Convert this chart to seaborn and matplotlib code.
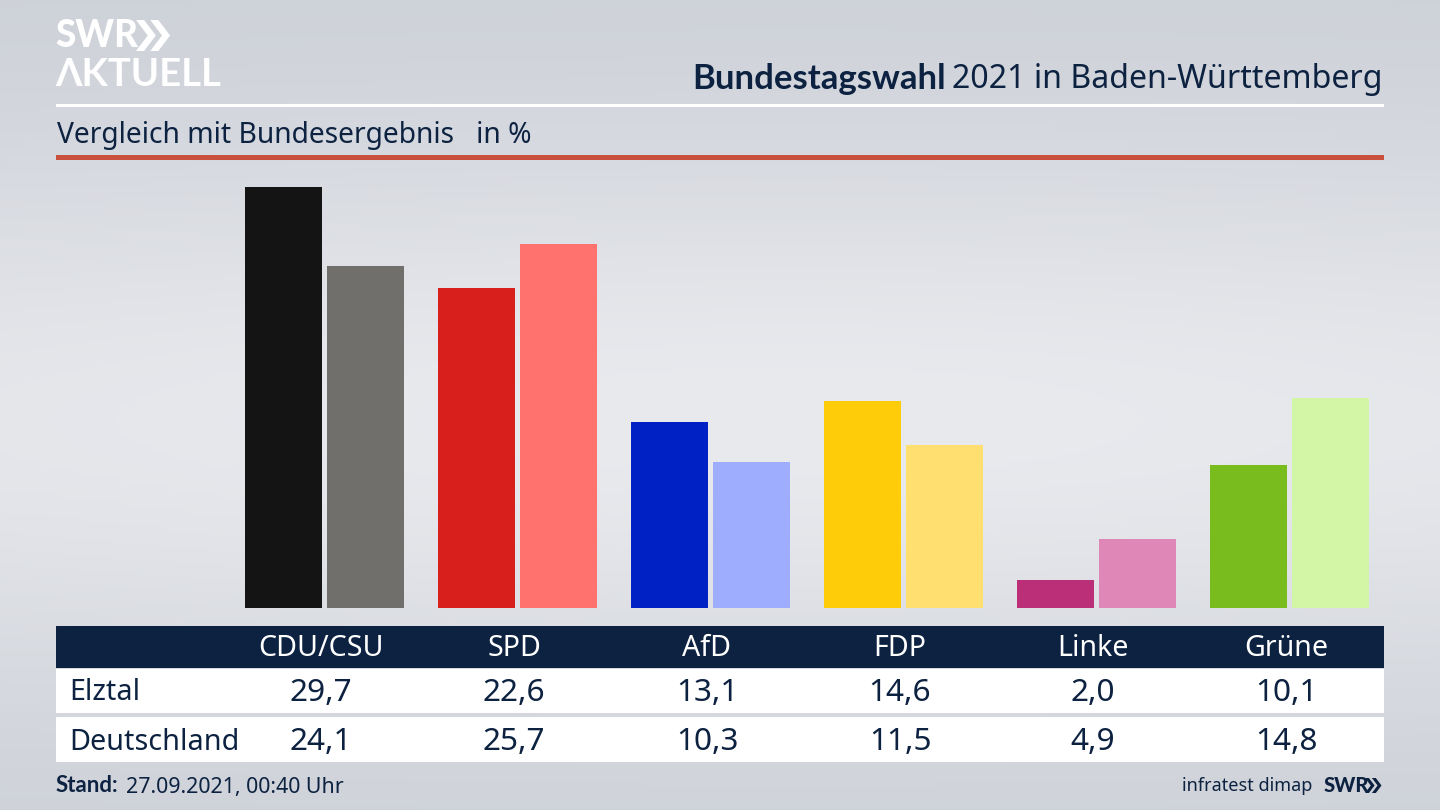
import matplotlib

matplotlib.use("Agg")
import matplotlib.pyplot as plt
import numpy as np
import pandas as pd
import seaborn as sns
from matplotlib.patches import Polygon, Rectangle

parties = ["CDU/CSU", "SPD", "AfD", "FDP", "Linke", "Grüne"]
elztal = [29.7, 22.6, 13.1, 14.6, 2.0, 10.1]
deutschland = [24.1, 25.7, 10.3, 11.5, 4.9, 14.8]
colors_elztal = ["#141414", "#d81f1c", "#0021c4", "#ffcc0a", "#bb2e78", "#78bc1e"]
colors_deutschland = ["#716f6c", "#ff726e", "#9fadff", "#ffdf70", "#df88b8", "#d2f5a6"]

W, H = 1440, 810
NAVY = "#0c2240"
FONT = "Noto Sans"
BOLD = "Lato"


def fmt(value):
    return f"{value:.1f}".replace(".", ",")


def draw_background(fig):
    bg = fig.add_axes([0, 0, 1, 1], zorder=0)
    yy, xx = np.mgrid[0:1:200j, 0:1:200j]
    # light band through the middle, darker towards the edges
    shade = np.exp(-((yy - 0.52) / 0.34) ** 2) * (0.75 + 0.25 * np.exp(-((xx - 0.55) / 0.6) ** 2))
    low = np.array([204, 208, 215]) / 255
    high = np.array([233, 234, 238]) / 255
    img = low + (high - low) * shade[..., None]
    bg.imshow(img, extent=(0, W, H, 0), aspect="auto")
    bg.set_xlim(0, W)
    bg.set_ylim(H, 0)
    bg.axis("off")
    return bg


def draw_chevrons(ax, x, y, height, color):
    w = height * 0.38
    t = height * 0.26
    for off in (0, height * 0.46):
        pts = [
            (x + off, y),
            (x + off + t, y),
            (x + off + t + w, y + height / 2),
            (x + off + t, y + height),
            (x + off, y + height),
            (x + off + w, y + height / 2),
        ]
        ax.add_patch(Polygon(pts, closed=True, color=color, lw=0))


def draw_header(ax):
    ax.text(55, 36, "SWR", color="white", fontsize=26.5, fontweight="black", family=BOLD, va="center", ha="left")
    draw_chevrons(ax, 136, 20, 31, "white")
    ax.text(55, 75, "ΛKTUELL", color="white", fontsize=27.5, fontweight="bold", family=[BOLD, "DejaVu Sans"], va="center", ha="left")

    ax.text(692, 79, "Bundestagswahl", color=NAVY, fontsize=25, fontweight="bold", family=BOLD, va="center")
    ax.text(1383, 80, "2021 in Baden-Württemberg", color=NAVY, fontsize=23.1, family=FONT, va="center", ha="right")

    ax.add_patch(Rectangle((56, 104), 1328, 3, color="white", lw=0))
    ax.text(57, 135, "Vergleich mit Bundesergebnis   in %", color=NAVY, fontsize=20.3, family=FONT, va="center")
    ax.add_patch(Rectangle((56, 155), 1328, 5, color="#c9503c", lw=0))


def draw_table(ax):
    col_x = [321 + 193 * i for i in range(len(parties))]
    ax.add_patch(Rectangle((56, 626), 1328, 42, color=NAVY, lw=0))
    ax.add_patch(Rectangle((56, 669), 1328, 44, color="white", lw=0))
    ax.add_patch(Rectangle((56, 717), 1328, 45, color="white", lw=0))

    for x, party in zip(col_x, parties):
        ax.text(x, 649, party, color="white", fontsize=20.6, family=FONT, ha="center", va="center")
    ax.text(69, 693, "Elztal", color=NAVY, fontsize=20.7, family=FONT, va="center")
    ax.text(69, 742, "Deutschland", color=NAVY, fontsize=20.7, family=FONT, va="center")
    for x, a, b in zip(col_x, elztal, deutschland):
        ax.text(x, 693, fmt(a), color=NAVY, fontsize=22.7, family=FONT, ha="center", va="center")
        ax.text(x, 742.5, fmt(b), color=NAVY, fontsize=22.7, family=FONT, ha="center", va="center")

    ax.text(56, 786, "Stand:", color=NAVY, fontsize=16, fontweight="bold", family=BOLD, va="center")
    ax.text(126, 788, "27.09.2021, 00:40 Uhr", color=NAVY, fontsize=15.4, family=FONT, va="center")
    ax.text(1312, 786, "infratest dimap", color=NAVY, fontsize=13, family=FONT, va="center", ha="right")
    ax.text(1324, 785, "SWR", color=NAVY, fontsize=14.5, fontweight="black", family=BOLD, va="center")
    draw_chevrons(ax, 1365, 778, 15, NAVY)


def draw_bars(fig):
    left, right = 228, 1386
    top, bottom = 165, 608
    ax = fig.add_axes([left / W, 1 - bottom / H, (right - left) / W, (bottom - top) / H], zorder=2)
    ax.patch.set_alpha(0)

    data = pd.DataFrame(
        {
            "party": parties * 2,
            "region": ["Elztal"] * len(parties) + ["Deutschland"] * len(parties),
            "value": elztal + deutschland,
        }
    )
    sns.barplot(
        data=data, x="party", y="value", hue="region", order=parties,
        width=0.85, gap=0.065, legend=False, saturation=1, ax=ax,
    )
    for patch, color in zip(ax.patches, colors_elztal + colors_deutschland):
        patch.set_facecolor(color)
        patch.set_edgecolor("none")

    ax.set_xlim(-0.5, 5.5)
    ax.set_ylim(0, (bottom - top) / (421 / 29.7))
    ax.axis("off")


def main():
    sns.set_theme(style="white")
    plt.rcParams["font.family"] = [FONT, "DejaVu Sans"]

    fig = plt.figure(figsize=(W / 100, H / 100), dpi=100)
    bg = draw_background(fig)
    draw_header(bg)
    draw_table(bg)
    draw_bars(fig)
    fig.savefig("out.png", dpi=100)
    plt.close(fig)


if __name__ == "__main__":
    main()
